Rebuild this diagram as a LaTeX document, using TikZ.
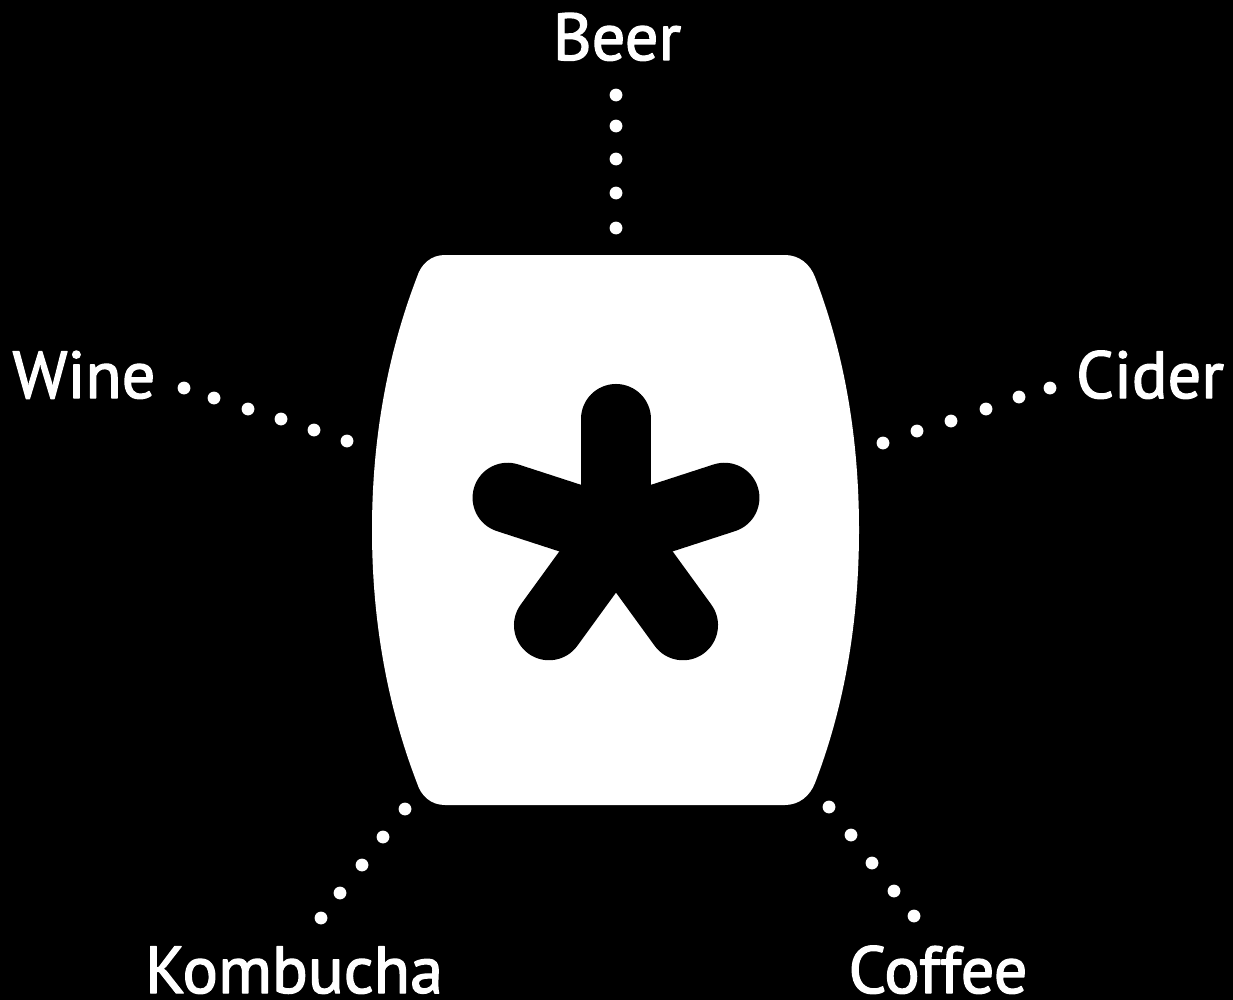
\documentclass[tikz,border=0pt]{standalone}
\usepackage{fontspec}
\setmainfont[FakeBold=2]{PT Sans}
\begin{document}
\begin{tikzpicture}[x=0.01cm, y=-0.01cm, line cap=round, line join=round,
    label/.style={white, inner sep=0pt, anchor=base, font=\fontsize{18.9}{22}\selectfont},
    spot/.style={white}]
    \fill[black] (0,0) rectangle (1233,1000);
    % barrel
    \fill[white] (445,255) -- (785,255) .. controls (799,255) and (810,264) .. (815,277)
      .. controls (845,355) and (859,440) .. (859,530)
      .. controls (859,620) and (845,705) .. (815,783)
      .. controls (810,796) and (799,805) .. (785,805) -- (445,805)
      .. controls (431,805) and (421,796) .. (417,783)
      .. controls (387,705) and (372,620) .. (372,530)
      .. controls (372,440) and (387,355) .. (417,277)
      .. controls (421,264) and (431,255) .. (445,255) -- cycle;
    % star
    \coordinate (hub) at (616,533);
    \foreach \a in {90,162,234,306,18}
      \draw[black, line width=0.7cm] (hub) -- +({114*cos(\a)},{-114*sin(\a)});
    % labels
    \node[label] (beer) at (617,60) {Beer};
    \node[label] (wine) at (84,398) {Wine};
    \node[label] (cider) at (1150,398) {Cider};
    \node[label] (kombucha) at (294,993) {Kombucha};
    \node[label] (coffee) at (938,993) {Coffee};
    % dots
    \foreach \x/\y in {616/95,616/126,616/159,616/193,616/228,
        184/388,214/398,248/409,281/419,314/430,347/441,
        1050/388,1019/397,986/409,951/421,917/431,883/443,
        321/918,340/893,362/865,383/837,405/809,
        829/807,851/835,872/863,894/891,914/916}
      \fill[spot] (\x,\y) circle[radius=6.4];
\end{tikzpicture}
\end{document}
